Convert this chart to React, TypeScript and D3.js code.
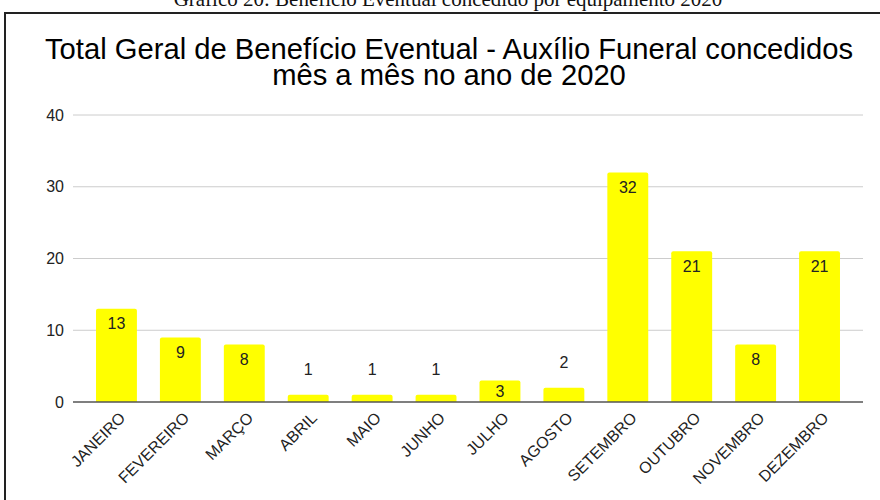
import React from "react";
import * as d3 from "d3";

const months = ["JANEIRO","FEVEREIRO","MARÇO","ABRIL","MAIO","JUNHO","JULHO","AGOSTO","SETEMBRO","OUTUBRO","NOVEMBRO","DEZEMBRO"];
const values = [13, 9, 8, 1, 1, 1, 3, 2, 32, 21, 8, 21];
const yTicks = [0, 10, 20, 30, 40];
const caption = "Gráfico 20: Benefício Eventual concedido por equipamento 2020";
const titleLines = ["Total Geral de Benefício Eventual - Auxílio Funeral concedidos", "mês a mês no ano de 2020"];

export default function App() {
  const W = 880, H = 500;
  const x = d3.scaleBand<string>().domain(months).range([73, 863]).paddingInner(0.36).paddingOuter(0.36);
  const y = d3.scaleLinear().domain([0, 40]).range([402, 115]);
  const sans = "Arial, 'Liberation Sans', sans-serif";
  return (
    <svg width={W} height={H} style={{ position: "absolute", left: 0, top: 0, background: "#fff" }}>
      <text x={448} y={6} textAnchor="middle" fontFamily="'Times New Roman', 'Liberation Serif', serif" fontSize={21} fill="#111">{caption}</text>
      <path d={`M5,${H} L5,13 L${W},13`} fill="none" stroke="#222" strokeWidth={2} />
      {titleLines.map((t, i) => (
        <text key={i} x={449} y={59 + i * 26} textAnchor="middle" fontFamily={sans} fontSize={29.2} fill="#000">{t}</text>
      ))}
      {yTicks.map(t => (
        <g key={t}>
          {t !== 0 && <line x1={73} x2={863} y1={y(t)} y2={y(t)} stroke="#cccccc" strokeWidth={1} />}
          <text x={64} y={y(t)} dy="0.35em" textAnchor="end" fontFamily={sans} fontSize={16} fill="#222">{t}</text>
        </g>
      ))}
      {months.map((m, i) => {
        const v = values[i];
        const x0 = x(m)!;
        const bw = x.bandwidth();
        const top = y(v);
        const h = y(0) - top;
        const r = Math.min(2, h / 2);
        const d = `M${x0},${y(0)} L${x0},${top + r} Q${x0},${top} ${x0 + r},${top} L${x0 + bw - r},${top} Q${x0 + bw},${top} ${x0 + bw},${top + r} L${x0 + bw},${y(0)} Z`;
        const inside = h >= 18;
        const ly = inside ? Math.min(top + 15, (top + y(0)) / 2) : top - 25;
        return (
          <g key={m}>
            <path d={d} fill="#ffff00" />
            <text x={x0 + bw / 2} y={ly} dy="0.35em" textAnchor="middle" fontFamily={sans} fontSize={16} fill="#222">{v}</text>
          </g>
        );
      })}
      <line x1={73} x2={863} y1={y(0)} y2={y(0)} stroke="#555" strokeWidth={1.5} />
      {months.map(m => {
        const cx = x(m)! + x.bandwidth() / 2 + 6;
        const cy = 415;
        return (
          <text key={m} x={cx} y={cy} textAnchor="end" dy="0.35em" transform={`rotate(-45 ${cx} ${cy})`} fontFamily={sans} fontSize={16} fill="#222">{m}</text>
        );
      })}
    </svg>
  );
}
